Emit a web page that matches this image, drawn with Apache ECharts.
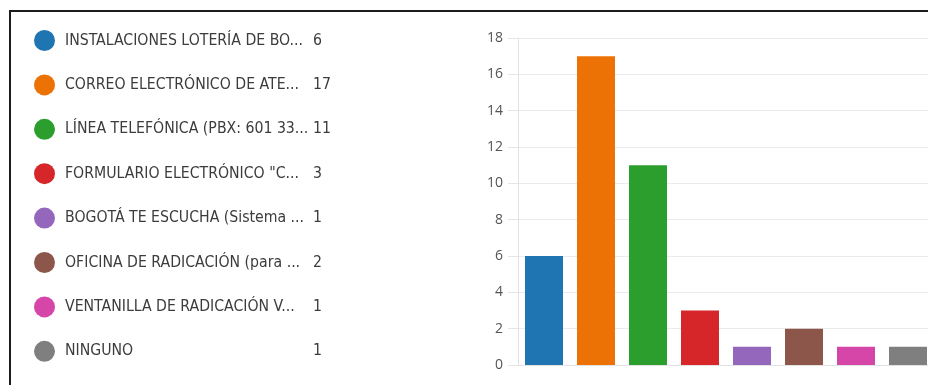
<!DOCTYPE html>
<html>
<head>
<meta charset="utf-8">
<script src="https://cdn.jsdelivr.net/npm/echarts@6/dist/echarts.min.js"></script>
<style>
  html, body { margin: 0; padding: 0; background: #fff; overflow: hidden; }
  #wrap { position: relative; width: 928px; height: 385px; overflow: hidden; }
  /* el gráfico original queda recortado por la derecha: lienzo algo más ancho */
  #chart { position: absolute; left: 0; top: 0; width: 940px; height: 385px; }
  /* marco oscuro de la captura original */
  #frame { position: absolute; left: 9px; top: 10px; right: -10px; bottom: -10px;
           border-left: 2px solid #1c1c1c; border-top: 2px solid #1c1c1c; pointer-events: none; }
</style>
</head>
<body>
<div id="wrap">
  <div id="chart"></div>
  <div id="frame"></div>
</div>
<script>
// ---- datos ----
var labels = [
    "INSTALACIONES LOTERÍA DE BO...",
    "CORREO ELECTRÓNICO DE ATE...",
    "LÍNEA TELEFÓNICA (PBX: 601 33...",
    "FORMULARIO ELECTRÓNICO \"C...",
    "BOGOTÁ TE ESCUCHA (Sistema ...",
    "OFICINA DE RADICACIÓN (para ...",
    "VENTANILLA DE RADICACIÓN V...",
    "NINGUNO"
];
var values = [6, 17, 11, 3, 1, 2, 1, 1];
var colors = ["#1f74b2", "#ec7206", "#2c9e2e", "#d62629", "#9467bd", "#8c564b", "#d646a9", "#7f7f7f"];
var yTicks = { min: 0, max: 18, interval: 2 };

var legendFont = "'Liberation Sans Narrow', 'DejaVu Sans Condensed', sans-serif";

var chart = echarts.init(document.getElementById("chart"), null, { renderer: "canvas" });

// una serie por categoría para que la leyenda muestre cada opción con su color
var series = labels.map(function (name, i) {
    return {
        name: name,
        type: "bar",
        stack: "all",
        barWidth: 38,
        itemStyle: { color: colors[i] },
        data: labels.map(function (_, j) { return j === i ? values[i] : "-"; })
    };
});

chart.setOption({
    animation: false,
    backgroundColor: "#ffffff",
    color: colors,
    legend: {
        orient: "vertical",
        left: 29,
        top: 25,
        icon: "circle",
        itemWidth: 21,
        itemHeight: 21,
        itemGap: 23.4,
        selectedMode: false,
        data: labels,
        formatter: function (name) {
            var idx = labels.indexOf(name);
            return "{n|" + name + "}{v|" + values[idx] + "}";
        },
        textStyle: {
            color: "#3c3c3c",
            fontFamily: legendFont,
            fontSize: 15.7,
            lineHeight: 21,
            rich: {
                n: { width: 248, padding: [0, 0, 0, 5], fontSize: 15.7, color: "#3c3c3c", fontFamily: legendFont },
                v: { fontSize: 15.7, color: "#3c3c3c", fontFamily: legendFont }
            }
        }
    },
    grid: { left: 518, right: 6, top: 38, bottom: 20, containLabel: false },
    xAxis: {
        type: "category",
        data: labels,
        axisLine: { show: true, lineStyle: { color: "#e2e2e2", width: 1 } },
        axisTick: { show: false },
        axisLabel: { show: false }
    },
    yAxis: {
        type: "value",
        min: yTicks.min,
        max: yTicks.max,
        interval: yTicks.interval,
        axisLine: { show: true, lineStyle: { color: "#e2e2e2", width: 1 } },
        axisTick: { show: true, length: 10, lineStyle: { color: "#e6e6e6" } },
        axisLabel: { margin: 15, color: "#555555", fontSize: 14, fontFamily: "'Open Sans', 'Noto Sans', sans-serif" },
        splitLine: { show: true, lineStyle: { color: "#ebebeb", width: 1 } }
    },
    series: series
});
</script>
</body>
</html>
